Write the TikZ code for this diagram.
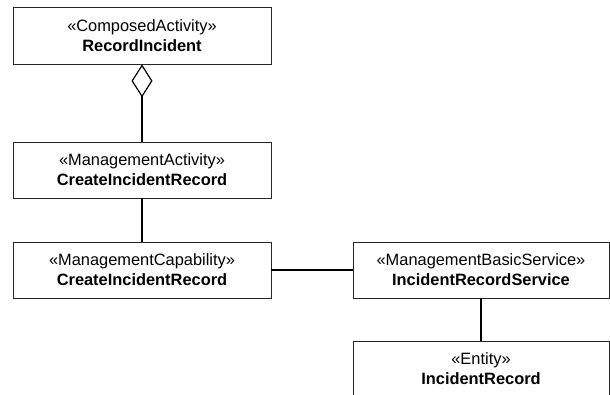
\documentclass[tikz,border=0pt]{standalone}
\usepackage{fontspec}
\setmainfont{Liberation Sans}
\usetikzlibrary{arrows.meta}
\begin{document}
\begin{tikzpicture}[x=1pt,y=-1pt,
  umlbox/.style={draw=black!85,line width=0.8pt,fill=white,inner sep=0pt,
    align=center,font=\fontsize{16.4}{20}\selectfont},
  conn/.style={draw=black,line width=1.6pt}]
\useasboundingbox (0,0) rectangle (610,395);
\node[umlbox,minimum width=258pt,minimum height=57pt] (b1) at (142,35.5)
  {«ComposedActivity»\\\textbf{RecordIncident}};
\node[umlbox,minimum width=258pt,minimum height=56pt] (b2) at (142,170)
  {«ManagementActivity»\\\textbf{CreateIncidentRecord}};
\node[umlbox,minimum width=258pt,minimum height=56pt] (b3) at (142,270)
  {«ManagementCapability»\\\textbf{CreateIncidentRecord}};
\node[umlbox,minimum width=256pt,minimum height=56pt] (b4) at (481,270)
  {«ManagementBasicService»\\\textbf{IncidentRecordService}};
\node[umlbox,minimum width=256pt,minimum height=56pt] (b5) at (481,369)
  {«Entity»\\\textbf{IncidentRecord}};
\draw[conn,-{Diamond[open,length=33pt,width=21pt,line width=1.2pt]}] (b2.north) -- (b1.south);
\draw[conn] (b2.south) -- (b3.north);
\draw[conn] (b3.east) -- (b4.west);
\draw[conn] (b4.south) -- (b5.north);
\end{tikzpicture}
\end{document}
